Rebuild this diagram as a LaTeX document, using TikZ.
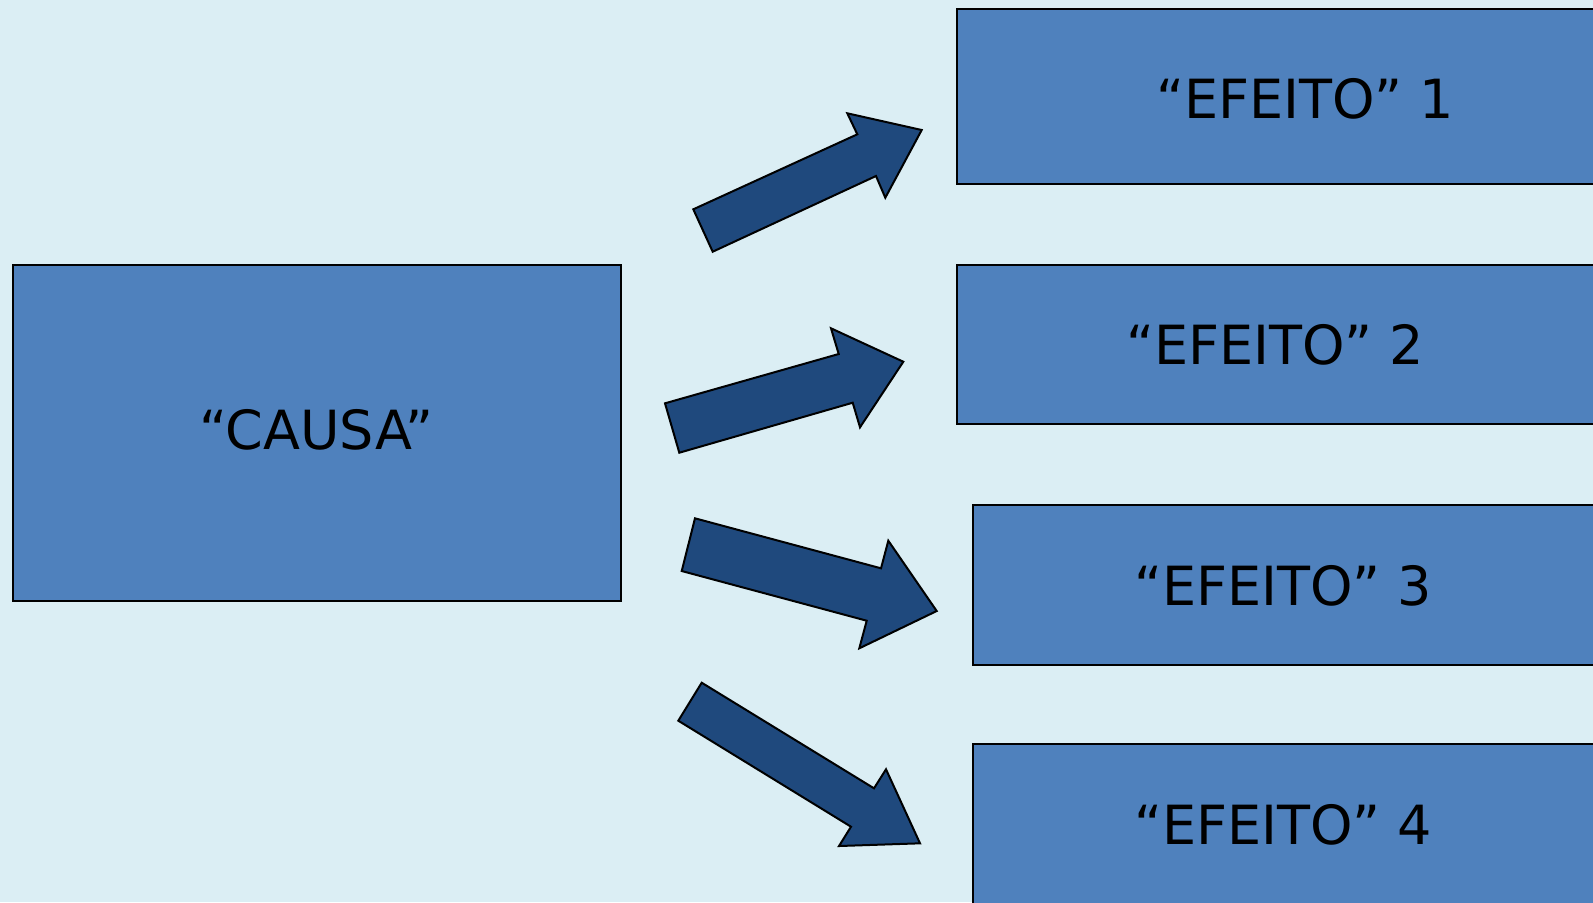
\documentclass[tikz,border=0pt]{standalone}
\usepackage{fontspec}
\setmainfont{DejaVu Sans}
\definecolor{bgc}{HTML}{DBEEF4}
\definecolor{boxc}{HTML}{4F81BD}
\definecolor{arrc}{HTML}{1F497D}
\tikzset{
  box/.style={draw=black, fill=boxc, line width=1pt, rectangle, anchor=north west, inner sep=0pt},
  lbl/.style={anchor=base, inner sep=0pt, font=\fontsize{27}{30}\selectfont, text=black},
  fatarrow/.style={draw=black, fill=arrc, line width=1pt, line join=miter}
}
\begin{document}
\begin{tikzpicture}[x=0.5pt,y=-0.5pt]
\useasboundingbox (0,0) rectangle (1593,902);
\clip (0,0) rectangle (1593,902);
\fill[bgc] (0,0) rectangle (1593,902);
% boxes
\node[box, minimum width=607.5*0.5pt, minimum height=336.3*0.5pt] (causa) at (12.2,263.5) {};
\node[box, minimum width=700*0.5pt, minimum height=175*0.5pt] (e1) at (955.5,8) {};
\node[box, minimum width=700*0.5pt, minimum height=159.5*0.5pt] (e2) at (955.5,263.8) {};
\node[box, minimum width=700*0.5pt, minimum height=160.5*0.5pt] (e3) at (971.8,503.5) {};
\node[box, minimum width=700*0.5pt, minimum height=200*0.5pt] (e4) at (971.8,743.2) {};
% labels
\node[lbl] (tcausa) at (316.5,449.5) {“CAUSA”};
\node[lbl] (t1) at (1305,118.5) {“EFEITO” 1};
\node[lbl] (t2) at (1275,364.5) {“EFEITO” 2};
\node[lbl] (t3) at (1283,605) {“EFEITO” 3};
\node[lbl] (t4) at (1283,844.8) {“EFEITO” 4};
% block arrows
\draw[fatarrow] (693.3,209.3) -- (857.3,134.3) -- (847.3,113.3) -- (921.7,130) -- (885.3,197.7) -- (876,176) -- (712.7,251.7) -- cycle;
\draw[fatarrow] (665,403.3) -- (838.7,354) -- (831,328.3) -- (903.3,361.7) -- (860,427.3) -- (852.7,402.7) -- (679.3,452.7) -- cycle;
\draw[fatarrow] (695,518.3) -- (881,568.3) -- (888.3,540.7) -- (936.7,611) -- (859.3,648.3) -- (866.7,620.7) -- (681.7,571) -- cycle;
\draw[fatarrow] (701.7,682.7) -- (874,788.3) -- (886,769.3) -- (920,843.3) -- (839,846) -- (851,826.7) -- (678.3,720.7) -- cycle;
\end{tikzpicture}
\end{document}
